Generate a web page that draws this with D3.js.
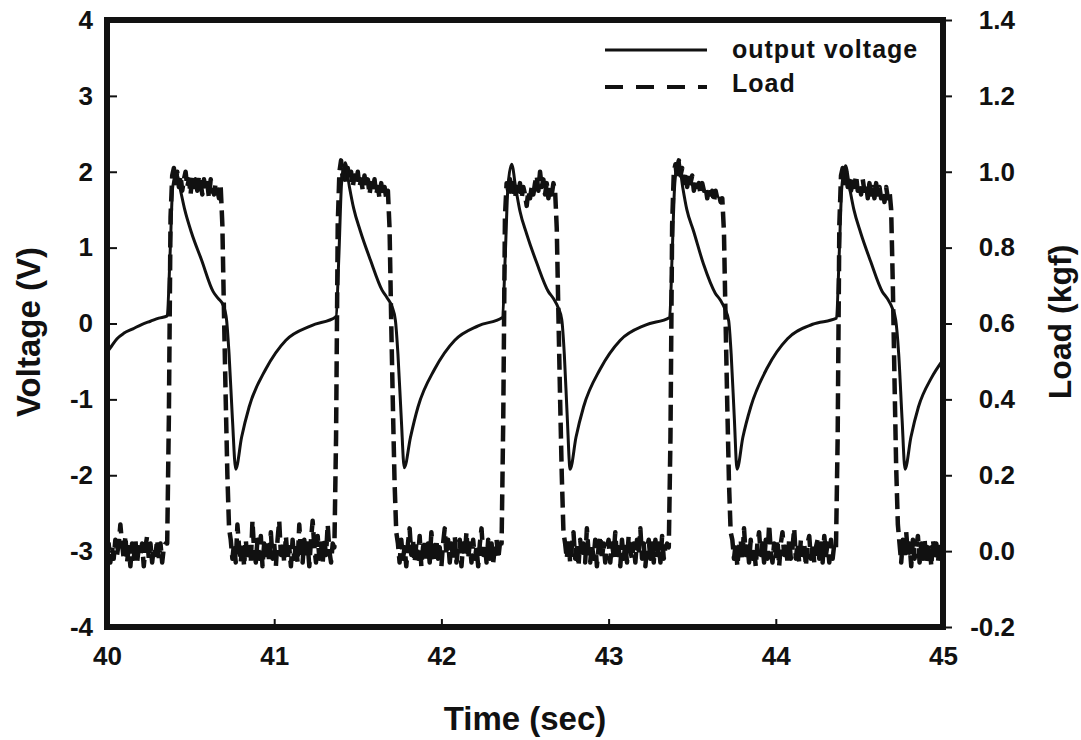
<!DOCTYPE html>
<html>
<head>
<meta charset="utf-8">
<script src="https://cdn.jsdelivr.net/npm/d3@7"></script>
<style>
  body { margin: 0; background: #fff; }
  svg { display: block; font-family: "Liberation Sans", Arial, sans-serif; }
</style>
</head>
<body>
<svg id="chart" width="1081" height="740"></svg>
<script>
// Axis ticks
const timeTicks = [40, 41, 42, 43, 44, 45];
const voltageTicks = [-4, -3, -2, -1, 0, 1, 2, 3, 4];
const loadTicks = [-0.2, 0, 0.2, 0.4, 0.6, 0.8, 1.0, 1.2, 1.4];
const seriesNames = ['output voltage', 'Load'];

// Output voltage, [time (s), voltage (V)]
const voltage = [
  [40.00, -0.38], [40.02, -0.32], [40.06, -0.20], [40.10, -0.13], [40.155, -0.07], [40.21, -0.01],
  [40.26, 0.03], [40.31, 0.07], [40.36, 0.10],
  // press 1
  [40.377, 0.90], [40.393, 1.80], [40.415, 1.98], [40.44, 1.75], [40.465, 1.50], [40.505, 1.20],
  [40.565, 0.84], [40.635, 0.42], [40.665, 0.33], [40.695, 0.24], [40.715, 0.05], [40.73, -0.40],
  [40.75, -1.25], [40.77, -1.92], [40.805, -1.50], [40.85, -1.10], [40.95, -0.60], [41.07, -0.22],
  [41.22, -0.03], [41.37, 0.09],
  // press 2
  [41.387, 0.90], [41.403, 1.85], [41.425, 2.12], [41.45, 1.80], [41.475, 1.52], [41.515, 1.22],
  [41.575, 0.84], [41.645, 0.44], [41.675, 0.34], [41.705, 0.22], [41.725, 0.04], [41.74, -0.40],
  [41.76, -1.25], [41.778, -1.90], [41.815, -1.50], [41.86, -1.10], [41.96, -0.60], [42.08, -0.22],
  [42.22, -0.03], [42.365, 0.08],
  // press 3
  [42.382, 0.90], [42.398, 1.80], [42.42, 2.10], [42.445, 1.78], [42.47, 1.48], [42.51, 1.18],
  [42.57, 0.80], [42.64, 0.42], [42.67, 0.33], [42.70, 0.20], [42.72, 0.05], [42.735, -0.40],
  [42.752, -1.20], [42.77, -1.92], [42.805, -1.50], [42.85, -1.10], [42.95, -0.60], [43.07, -0.22],
  [43.22, -0.02], [43.365, 0.08],
  // press 4
  [43.38, 0.90], [43.396, 1.85], [43.418, 2.15], [43.443, 1.80], [43.468, 1.50], [43.508, 1.22],
  [43.568, 0.78], [43.638, 0.40], [43.668, 0.31], [43.698, 0.18], [43.718, 0.04], [43.733, -0.40],
  [43.752, -1.25], [43.768, -1.92], [43.803, -1.50], [43.85, -1.10], [43.95, -0.58], [44.07, -0.20],
  [44.22, -0.01], [44.363, 0.07],
  // press 5
  [44.379, 0.90], [44.395, 1.80], [44.417, 2.08], [44.442, 1.78], [44.467, 1.50], [44.507, 1.20],
  [44.567, 0.82], [44.637, 0.42], [44.667, 0.33], [44.697, 0.20], [44.717, 0.05], [44.735, -0.40],
  [44.755, -1.25], [44.773, -1.92], [44.808, -1.50], [44.853, -1.10], [44.93, -0.72], [45.00, -0.48]
];

// Load (kgf), one sample every 10 ms starting at 40.00 s
const loadStart = 40;
const loadStep = 0.01;
const load = [
  -0.01, 0.02, -0.03, 0.01, -0.02, 0.03, -0.01, 0.02, 0.07, 0.02,
  -0.02, 0.04, -0.03, 0.01, -0.04, 0.02, -0.02, 0.03, -0.03, 0.01,
  -0.01, 0.02, -0.04, 0.01, 0.04, -0.02, 0.02, -0.03, 0.01, -0.01,
  0.03, -0.02, 0.02, -0.03, 0.01, 0.02, 0.02, 0.35, 0.88, 0.99,
  1.01, 0.97, 1.00, 0.96, 0.99, 0.95, 0.98, 1.00, 0.96, 0.98,
  0.94, 0.99, 0.96, 0.98, 0.95, 0.99, 0.97, 0.94, 0.98, 0.95,
  0.97, 0.93, 0.98, 0.96, 0.94, 0.97, 0.95, 0.93, 0.96, 0.86,
  0.62, 0.40, 0.20, 0.06, 0.03, -0.02, 0.02, -0.03, 0.07, 0.01,
  -0.03, 0.02, -0.04, 0.03, -0.02, 0.01, -0.03, 0.08, 0.00, -0.03,
  0.03, -0.02, 0.04, -0.04, 0.02, -0.01, 0.03, -0.03, 0.05, -0.02,
  0.02, -0.04, 0.03, 0.08, -0.01, 0.02, -0.03, 0.04, -0.02, 0.01,
  -0.04, 0.03, -0.02, 0.02, -0.03, 0.07, 0.00, -0.03, 0.03, -0.02,
  0.02, -0.04, 0.03, 0.08, 0.01, -0.03, 0.04, -0.02, 0.02, -0.03,
  0.03, -0.01, 0.07, 0.00, -0.03, 0.02, 0.01, 0.30, 0.86, 1.00,
  1.03, 0.98, 1.02, 0.97, 1.01, 0.98, 1.00, 0.96, 0.99, 0.97,
  1.00, 0.96, 0.98, 0.95, 0.99, 0.96, 0.98, 0.94, 0.97, 0.95,
  0.98, 0.94, 0.96, 0.93, 0.97, 0.94, 0.96, 0.93, 0.95, 0.85,
  0.60, 0.38, 0.18, 0.05, 0.02, -0.03, 0.03, -0.02, 0.01, -0.04,
  0.02, 0.06, -0.01, 0.03, -0.03, 0.02, -0.02, 0.04, -0.04, 0.01,
  0.03, -0.02, 0.02, -0.03, 0.05, 0.00, -0.03, 0.03, -0.02, 0.01,
  -0.04, 0.02, 0.06, -0.01, 0.03, -0.03, 0.02, -0.02, 0.04, -0.03,
  0.01, 0.03, -0.04, 0.02, -0.01, 0.05, -0.02, 0.02, -0.03, 0.03,
  -0.02, 0.01, -0.04, 0.02, 0.06, -0.01, 0.02, -0.03, 0.03, -0.02,
  0.02, -0.03, 0.01, 0.03, -0.02, 0.02, 0.02, 0.35, 0.88, 0.97,
  0.95, 0.98, 0.94, 0.97, 0.93, 0.96, 0.94, 0.97, 0.93, 0.96,
  0.94, 0.91, 0.95, 0.93, 0.96, 0.94, 0.97, 0.99, 0.95, 1.00,
  0.96, 0.98, 0.94, 0.97, 0.93, 0.96, 0.94, 0.97, 0.95, 0.85,
  0.62, 0.40, 0.20, 0.05, 0.02, -0.02, 0.03, -0.03, 0.01, 0.05,
  -0.02, 0.02, -0.04, 0.03, -0.01, 0.02, -0.03, 0.06, 0.00, -0.03,
  0.02, -0.02, 0.03, -0.04, 0.01, 0.04, -0.02, 0.02, -0.03, 0.01,
  0.03, -0.03, 0.02, -0.01, 0.05, -0.02, 0.01, -0.04, 0.03, -0.02,
  0.02, -0.03, 0.04, 0.00, -0.02, 0.02, -0.03, 0.03, -0.01, 0.06,
  -0.02, 0.02, -0.04, 0.01, 0.03, -0.02, 0.02, -0.03, 0.03, -0.01,
  0.02, -0.03, 0.04, -0.02, 0.01, 0.02, 0.01, 0.30, 0.86, 1.00,
  1.02, 0.98, 1.03, 0.99, 1.01, 0.97, 1.00, 0.96, 0.99, 0.97,
  0.99, 0.95, 0.98, 0.96, 0.97, 0.94, 0.97, 0.95, 0.96, 0.93,
  0.96, 0.94, 0.95, 0.92, 0.95, 0.93, 0.94, 0.92, 0.93, 0.84,
  0.60, 0.38, 0.18, 0.05, 0.03, -0.02, 0.02, -0.04, 0.01, 0.03,
  -0.02, 0.06, -0.01, 0.02, -0.03, 0.03, -0.02, 0.01, -0.04, 0.02,
  0.05, -0.01, 0.02, -0.03, 0.03, -0.02, 0.07, 0.00, -0.03, 0.02,
  -0.02, 0.03, -0.04, 0.02, 0.05, -0.01, 0.02, -0.03, 0.03, -0.02,
  0.01, 0.06, -0.02, 0.02, -0.03, 0.03, -0.01, 0.02, -0.04, 0.02,
  0.04, -0.02, 0.02, -0.03, 0.01, 0.03, -0.02, 0.02, -0.03, 0.04,
  -0.01, 0.02, -0.03, 0.03, -0.02, 0.02, 0.01, 0.30, 0.86, 0.99,
  1.01, 0.97, 1.00, 0.96, 0.99, 0.95, 0.98, 0.96, 0.99, 0.95,
  0.97, 0.94, 0.98, 0.95, 0.97, 0.93, 0.97, 0.94, 0.96, 0.93,
  0.97, 0.94, 0.96, 0.93, 0.95, 0.92, 0.96, 0.93, 0.95, 0.90,
  0.70, 0.45, 0.22, 0.07, 0.02, -0.03, 0.03, -0.02, 0.05, -0.01,
  0.02, -0.04, 0.03, -0.02, 0.01, 0.04, -0.03, 0.02, -0.02, 0.03,
  -0.03, 0.01, 0.02, -0.04, 0.03, -0.01, 0.02, -0.03, 0.02, -0.02,
  0.01
];

const ink = '#111';
const margin = { top: 20, left: 107, right: 138, bottom: 113 };
const width = 1081 - margin.left - margin.right;
const height = 740 - margin.top - margin.bottom;

const svg = d3.select('#chart');

const x = d3.scaleLinear().domain([40, 45]).range([0, width]);
const yVolt = d3.scaleLinear().domain([-4, 4]).range([height, 0]);
const yLoad = d3.scaleLinear().domain([-0.2, 1.4]).range([height, 0]);

const g = svg.append('g').attr('transform', `translate(${margin.left},${margin.top})`);

g.append('clipPath').attr('id', 'plot-clip')
  .append('rect').attr('width', width).attr('height', height);

// axes
function styleAxis(sel) {
  sel.select('.domain').remove();
  sel.attr('font-family', null).attr('font-size', null);
  sel.selectAll('line').attr('stroke', ink).attr('stroke-width', 2);
  sel.selectAll('text')
    .attr('fill', ink)
    .style('font-size', '26px')
    .style('font-weight', 'bold');
}

g.append('g')
  .call(d3.axisLeft(yVolt).tickValues(voltageTicks).tickSizeInner(-10).tickSizeOuter(0)
    .tickPadding(14).tickFormat((d) => String(d)))
  .call(styleAxis);

g.append('g')
  .attr('transform', `translate(${width},0)`)
  .call(d3.axisRight(yLoad).tickValues(loadTicks).tickSizeInner(9).tickSizeOuter(0)
    .tickFormat((d) => d.toFixed(1)))
  .call(styleAxis)
  .selectAll('text')
  .attr('x', 72)
  .attr('text-anchor', 'end');

g.append('g')
  .attr('transform', `translate(0,${height})`)
  .call(d3.axisBottom(x).tickValues(timeTicks).tickSizeInner(-8).tickSizeOuter(0)
    .tickPadding(20).tickFormat((d) => String(d)))
  .call(styleAxis);

// traces
const lines = g.append('g').attr('clip-path', 'url(#plot-clip)');

const loadLine = d3.line()
  .x((d, i) => x(loadStart + i * loadStep))
  .y((d) => yLoad(d));

const voltLine = d3.line()
  .x((d) => x(d[0]))
  .y((d) => yVolt(d[1]))
  .curve(d3.curveMonotoneX);

lines.append('path')
  .datum(load)
  .attr('d', loadLine)
  .attr('fill', 'none')
  .attr('stroke', ink)
  .attr('stroke-width', 4.5)
  .attr('stroke-dasharray', '16,7')
  .attr('stroke-linejoin', 'round');

lines.append('path')
  .datum(voltage)
  .attr('d', voltLine)
  .attr('fill', 'none')
  .attr('stroke', ink)
  .attr('stroke-width', 3)
  .attr('stroke-linejoin', 'round');

// frame
g.append('rect')
  .attr('width', width)
  .attr('height', height)
  .attr('fill', 'none')
  .attr('stroke', ink)
  .attr('stroke-width', 6);

// legend
const legend = svg.append('g').attr('transform', 'translate(605,0)');
const legendRows = [
  { name: seriesNames[0], y: 50, dash: null, width: 3, textY: 58 },
  { name: seriesNames[1], y: 87, dash: '18,13', width: 4, textY: 92 }
];
legendRows.forEach((row) => {
  legend.append('line')
    .attr('x1', 0).attr('x2', 102)
    .attr('y1', row.y).attr('y2', row.y)
    .attr('stroke', ink)
    .attr('stroke-width', row.width)
    .attr('stroke-dasharray', row.dash);
  legend.append('text')
    .attr('x', 127)
    .attr('y', row.textY)
    .attr('fill', ink)
    .style('font-size', '25px')
    .style('font-weight', 'bold')
    .style('letter-spacing', '1px')
    .text(row.name);
});

// axis titles
svg.append('text')
  .attr('x', margin.left + width / 2)
  .attr('y', 730)
  .attr('text-anchor', 'middle')
  .attr('fill', ink)
  .style('font-size', '33px')
  .style('font-weight', 'bold')
  .text('Time (sec)');

svg.append('text')
  .attr('transform', 'translate(40,332) rotate(-90)')
  .attr('text-anchor', 'middle')
  .attr('fill', ink)
  .style('font-size', '33px')
  .style('font-weight', 'bold')
  .text('Voltage (V)');

svg.append('text')
  .attr('transform', 'translate(1071,322) rotate(-90)')
  .attr('text-anchor', 'middle')
  .attr('fill', ink)
  .style('font-size', '32px')
  .style('font-weight', 'bold')
  .text('Load (kgf)');
</script>
</body>
</html>
